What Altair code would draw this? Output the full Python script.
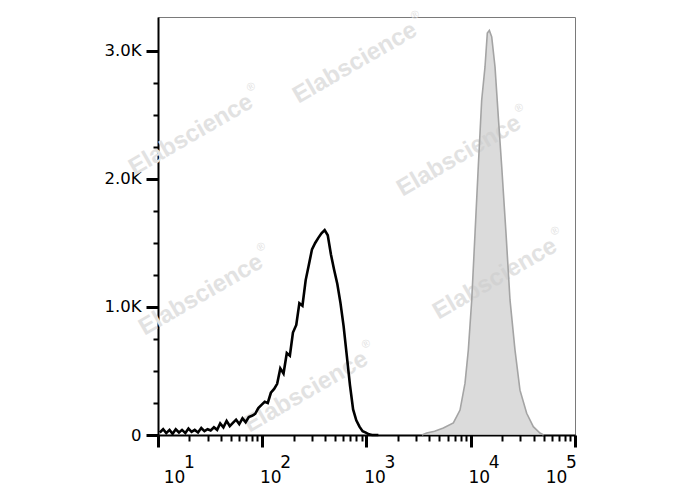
import altair as alt
import pandas as pd

# Unstained / isotype histogram (black outline)
black_x = [10.4, 11.2, 12.0, 12.9, 13.8, 14.8, 15.9, 17.0, 18.3, 19.6, 21.0, 22.5, 24.2, 26.0,
           27.9, 29.9, 32.0, 34.4, 36.9, 39.5, 42.4, 45.5, 48.8, 52.3, 56.1, 60.2, 64.6, 69.3,
           74.3, 79.7, 85.5, 91.7, 98.4, 105.6, 113, 121, 130, 139, 149, 160, 172, 184, 197,
           212, 227, 243, 261, 280, 300, 322, 345, 370, 397, 425, 456, 489, 525, 563, 603,
           647, 694, 744, 798, 856, 918, 985, 1056, 1133, 1215, 1300]
black_count = [20, 45, 15, 40, 10, 45, 20, 40, 15, 50, 25, 40, 20, 55,
               30, 45, 35, 60, 40, 90, 60, 110, 70, 95, 120, 85, 130, 100,
               140, 150, 165, 210, 235, 260, 250, 330, 360, 400, 520, 480, 640, 620, 800,
               860, 1030, 1010, 1210, 1330, 1450, 1500, 1540, 1575, 1600, 1560, 1410, 1290, 1180, 1030, 850,
               620, 390, 200, 115, 65, 30, 18, 5, 0, 0, 0]

# Stained histogram (grey filled)
gray_x = [3400, 3776, 4500, 5460, 6810, 7890, 8810, 9480, 10220, 10990, 11810, 12730, 13700,
          14420, 15080, 15890, 17090, 18380, 19820, 21790, 23800, 26560, 29660, 34400, 39810,
          46130, 50000]
gray_count = [0, 15, 30, 55, 95, 195, 405, 665, 1055, 1575, 2095, 2615, 2875,
              3140, 3160, 3110, 2875, 2485, 2095, 1575, 1055, 665, 350, 170, 65,
              15, 0]

decades = [10, 100, 1000, 10000, 100000]
x_tick_values = decades + [k * d for d in decades[:-1] for k in range(2, 10)]
y_tick_values = list(range(0, 3001, 250))

black_df = pd.DataFrame({"x": black_x, "count": black_count})
gray_df = pd.DataFrame({"x": gray_x, "count": gray_count})

FONT = "DejaVu Sans"
is_decade = "abs(log(datum.value)/LN10 - round(log(datum.value)/LN10)) < 0.001"

xs = alt.Scale(type="log", domain=[10, 100000], nice=False)
ys = alt.Scale(domain=[0, 3265], nice=False, zero=True)

y_axis = alt.Axis(
    values=y_tick_values,
    labelExpr="datum.value == 0 ? '0' : (datum.value % 1000 == 0 ? format(datum.value/1000, '.1f') + 'K' : '')",
    tickSize={"condition": {"test": "datum.value % 1000 == 0", "value": 12}, "value": 5},
    tickWidth={"condition": {"test": "datum.value % 1000 == 0", "value": 3}, "value": 2},
    tickColor="black", domainColor="black", domainWidth=2,
    labelFont=FONT, labelFontSize=16.5, labelColor="black", labelPadding=5,
    labelOverlap=False, labelFlush=False, grid=False, title=None,
)

x_axis_main = alt.Axis(
    orient="bottom",
    values=x_tick_values,
    labelExpr=is_decade + " ? '10' : ''",
    tickSize={"condition": {"test": is_decade, "value": 12}, "value": 6},
    tickWidth={"condition": {"test": is_decade, "value": 3}, "value": 2},
    tickColor="black", domainColor="black", domainWidth=2,
    labelFont=FONT, labelFontSize=17, labelColor="black", labelPadding=22,
    labelOffset={"condition": [{"test": "datum.value < 11", "value": 16},
                               {"test": "datum.value > 99999", "value": -19}], "value": 8},
    labelOverlap=False, labelFlush=False, labelBound=False, grid=False, title=None,
)

x_axis_exp = alt.Axis(
    orient="bottom",
    values=decades,
    labelExpr="format(round(log(datum.value)/LN10), 'd')",
    ticks=False, domain=False,
    labelFont=FONT, labelFontSize=17, labelColor="black", labelPadding=19,
    labelOffset={"condition": [{"test": "datum.value < 11", "value": 31},
                               {"test": "datum.value > 99999", "value": -4}], "value": 23},
    labelOverlap=False, labelFlush=False, labelBound=False, grid=False, title=None,
)

area = alt.Chart(gray_df).mark_area(
    color="#cccccc", line={"color": "#a4a4a4", "strokeWidth": 1.6}
).encode(
    x=alt.X("x:Q", scale=xs, axis=x_axis_main),
    y=alt.Y("count:Q", scale=ys, axis=y_axis),
)

line = alt.Chart(black_df).mark_line(color="black", strokeWidth=2.6).encode(
    x=alt.X("x:Q", scale=xs, axis=x_axis_exp),
    y=alt.Y("count:Q", scale=ys, axis=y_axis),
)

marks = [(197, 46), (33, 118), (301, 139), (43, 278), (337, 262), (148, 375)]
wm_layers = []
for px, py in marks:
    one = alt.Data(values=[{}])
    wm_layers.append(
        alt.Chart(one).mark_text(
            text="Elabscience", angle=330, font="Liberation Sans", fontSize=24,
            fontWeight="bold", color="#e2e2e2", align="center", baseline="middle",
        ).encode(x=alt.value(px), y=alt.value(py))
    )
    wm_layers.append(
        alt.Chart(one).mark_text(
            text="®", angle=330, font="Liberation Sans", fontSize=11,
            color="#e2e2e2", align="left", baseline="middle", dx=72, dy=-11,
        ).encode(x=alt.value(px), y=alt.value(py))
    )

chart = alt.layer(*wm_layers, area, line).resolve_axis(x="independent").properties(
    width=417, height=418,
    autosize=alt.AutoSizeParams(type="none"),
    padding={"left": 150, "top": 9, "right": 30, "bottom": 55},
).configure_view(stroke="#7a7a7a", strokeWidth=1)

chart.save("out.html", embed_options={"renderer": "svg", "actions": False})
